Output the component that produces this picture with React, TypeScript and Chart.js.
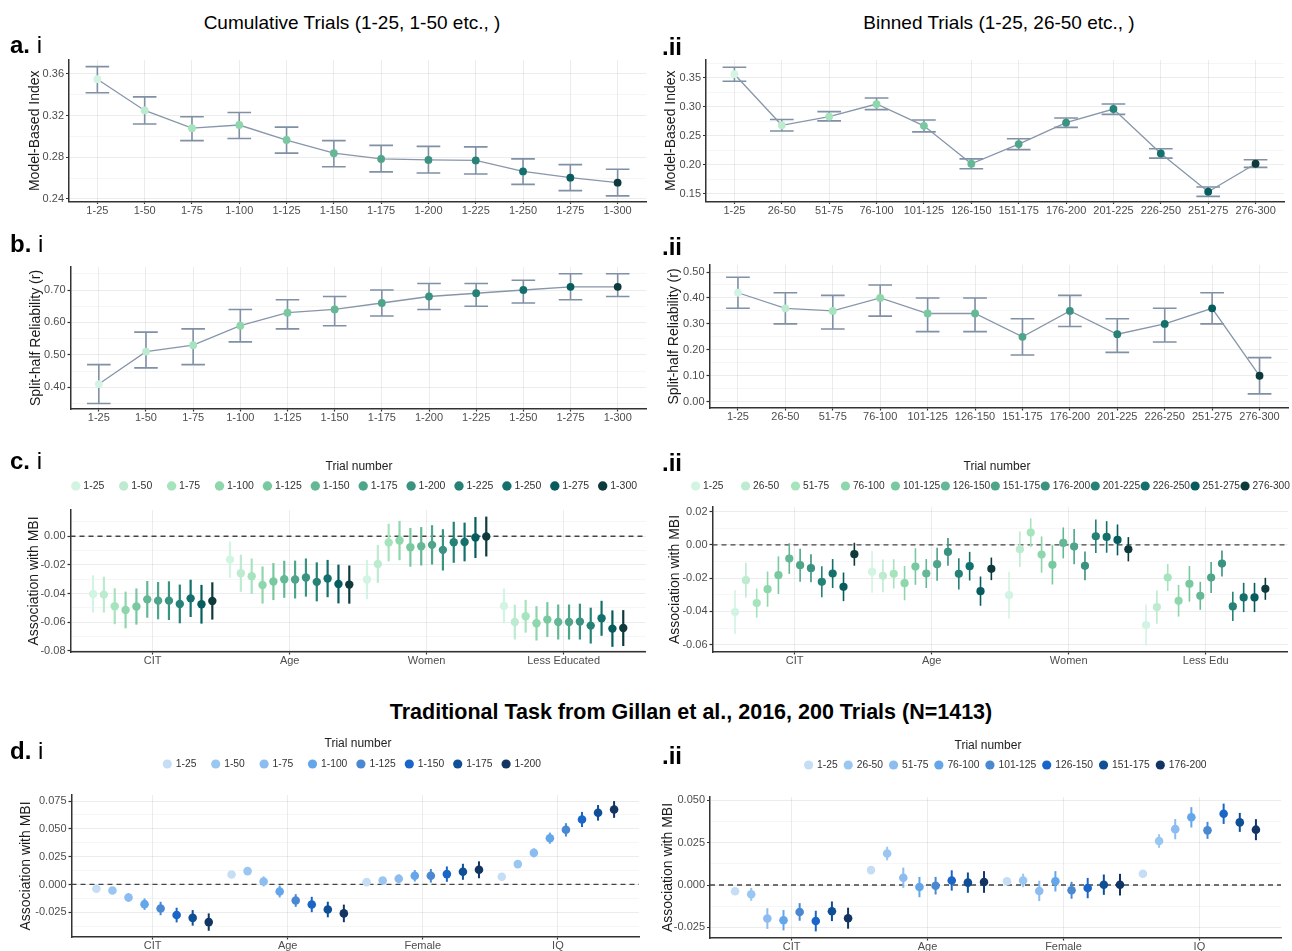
import React, { useEffect, useRef } from "react";
import { Chart, registerables } from "chart.js";

Chart.register(...registerables);

const FONT = '"Liberation Sans", Arial, Helvetica, sans-serif';
const TICK_COLOR = "#4d4d4d";
const TITLE_COLOR = "#1a1a1a";
const AXIS_COLOR = "#333333";
const GRID_MAJOR = "rgba(0,0,0,0.075)";
const GRID_MINOR = "rgba(0,0,0,0.035)";
const LINE_COLOR = "#8796aa";
const ERR_COLOR = "#8090a5";
const DODGE = 0.95;

// ---------- categories ----------
const cumulativeBins = ["1-25", "1-50", "1-75", "1-100", "1-125", "1-150", "1-175", "1-200", "1-225", "1-250", "1-275", "1-300"];
const binnedBins = ["1-25", "26-50", "51-75", "76-100", "101-125", "126-150", "151-175", "176-200", "201-225", "226-250", "251-275", "276-300"];
const gillanCumBins = ["1-25", "1-50", "1-75", "1-100", "1-125", "1-150", "1-175", "1-200"];
const gillanBinBins = ["1-25", "26-50", "51-75", "76-100", "101-125", "126-150", "151-175", "176-200"];
const groupsC1 = ["CIT", "Age", "Women", "Less Educated"];
const groupsC2 = ["CIT", "Age", "Women", "Less Edu"];
const groupsD = ["CIT", "Age", "Female", "IQ"];

const tealColors = ["#d2f4e2", "#bdebd0", "#a6e4be", "#8ed6ab", "#78c9a0", "#64b896", "#4ea58a", "#3a9280", "#268276", "#14706c", "#075c5e", "#0f3a3c"];
const blueColors = ["#c6ddf6", "#9ac6f2", "#8dbdf0", "#64a6ea", "#4a88d2", "#1a66c8", "#0f4f96", "#123563"];

// ---------- a.i  Model-based index, cumulative ----------
const a1Mean = [0.355, 0.325, 0.308, 0.311, 0.2966, 0.284, 0.2785, 0.2775, 0.277, 0.2665, 0.2605, 0.2557];
const a1Lo = [0.342, 0.312, 0.296, 0.298, 0.284, 0.271, 0.266, 0.265, 0.264, 0.254, 0.248, 0.243];
const a1Hi = [0.367, 0.338, 0.319, 0.323, 0.309, 0.296, 0.2915, 0.2905, 0.29, 0.2785, 0.273, 0.2685];
// ---------- a.ii Model-based index, binned ----------
const a2Mean = [0.356, 0.268, 0.283, 0.3046, 0.267, 0.2017, 0.2356, 0.2724, 0.296, 0.2195, 0.1535, 0.2017];
const a2Lo = [0.344, 0.258, 0.2755, 0.295, 0.2566, 0.193, 0.226, 0.2643, 0.2868, 0.2114, 0.1455, 0.1954];
const a2Hi = [0.368, 0.278, 0.2915, 0.315, 0.277, 0.21, 0.2448, 0.2804, 0.3046, 0.2275, 0.1615, 0.2086];
// ---------- b.i split-half reliability, cumulative ----------
const b1Mean = [0.41, 0.51, 0.53, 0.59, 0.63, 0.64, 0.66, 0.68, 0.69, 0.7, 0.71, 0.71];
const b1Lo = [0.35, 0.46, 0.47, 0.54, 0.58, 0.59, 0.62, 0.64, 0.65, 0.66, 0.67, 0.68];
const b1Hi = [0.47, 0.57, 0.58, 0.64, 0.67, 0.68, 0.7, 0.72, 0.72, 0.73, 0.75, 0.75];
// ---------- b.ii split-half reliability, binned ----------
const b2Mean = [0.42, 0.36, 0.35, 0.4, 0.34, 0.34, 0.25, 0.35, 0.26, 0.3, 0.36, 0.1];
const b2Lo = [0.36, 0.3, 0.28, 0.33, 0.27, 0.27, 0.18, 0.29, 0.19, 0.23, 0.3, 0.03];
const b2Hi = [0.48, 0.42, 0.41, 0.45, 0.4, 0.4, 0.32, 0.41, 0.32, 0.36, 0.42, 0.17];

// ---------- c.i association with MBI, cumulative (rows = groups, cols = bins) ----------
const c1Est = [
  [-0.0402, -0.0407, -0.0488, -0.0514, -0.049, -0.044, -0.0449, -0.0449, -0.0472, -0.0433, -0.0474, -0.0451],
  [-0.0163, -0.0258, -0.0279, -0.034, -0.0316, -0.03, -0.0302, -0.0288, -0.0318, -0.0295, -0.0333, -0.0337],
  [-0.0302, -0.0193, -0.0044, -0.003, -0.0077, -0.007, -0.006, -0.0095, -0.0042, -0.004, -0.0009, -0.0002],
  [-0.0486, -0.0598, -0.0558, -0.0607, -0.0581, -0.0598, -0.0598, -0.0595, -0.0623, -0.0572, -0.0644, -0.064],
];
const c1Err = [
  [0.013, 0.0125, 0.0125, 0.0128, 0.0126, 0.0128, 0.013, 0.0135, 0.0135, 0.013, 0.0135, 0.013],
  [0.0126, 0.0129, 0.0124, 0.0129, 0.0129, 0.0129, 0.0132, 0.0133, 0.0136, 0.013, 0.0135, 0.0133],
  [0.0137, 0.0132, 0.0131, 0.0137, 0.0135, 0.0134, 0.0137, 0.0144, 0.0143, 0.0135, 0.0143, 0.0139],
  [0.0121, 0.0122, 0.0114, 0.012, 0.0122, 0.0122, 0.0122, 0.0125, 0.0125, 0.0122, 0.0127, 0.0125],
];
// ---------- c.ii association with MBI, binned ----------
const c2Est = [
  [-0.0404, -0.0212, -0.035, -0.0266, -0.0182, -0.0082, -0.0122, -0.014, -0.0222, -0.0172, -0.0252, -0.0056],
  [-0.0162, -0.0186, -0.0174, -0.023, -0.013, -0.0172, -0.0116, -0.0042, -0.0174, -0.0128, -0.0278, -0.0144],
  [-0.0302, -0.0026, 0.0074, -0.0058, -0.012, 0.0012, -0.001, -0.0126, 0.0052, 0.0048, 0.003, -0.0026],
  [-0.0482, -0.0374, -0.0196, -0.0336, -0.0234, -0.0306, -0.0196, -0.0112, -0.037, -0.0316, -0.0316, -0.0264],
];
const c2Err = [
  [0.0132, 0.0104, 0.0088, 0.0106, 0.0113, 0.0092, 0.0099, 0.0084, 0.0093, 0.0087, 0.0086, 0.0069],
  [0.0125, 0.0099, 0.0088, 0.0103, 0.011, 0.0087, 0.0099, 0.0083, 0.0094, 0.0086, 0.0088, 0.0068],
  [0.0141, 0.0106, 0.0086, 0.0109, 0.0118, 0.0093, 0.0106, 0.0086, 0.0101, 0.0095, 0.0093, 0.0073],
  [0.0123, 0.01, 0.0081, 0.0095, 0.0107, 0.0084, 0.0093, 0.0078, 0.0088, 0.0088, 0.0088, 0.0066],
];
// ---------- d.i Gillan task, cumulative ----------
const d1Est = [
  [-0.0039, -0.0054, -0.0117, -0.0177, -0.0216, -0.0275, -0.03, -0.0338],
  [0.009, 0.012, 0.0027, -0.0063, -0.0144, -0.018, -0.0225, -0.026],
  [0.0021, 0.0036, 0.0051, 0.0078, 0.0078, 0.0093, 0.0114, 0.0132],
  [0.0069, 0.0183, 0.0284, 0.0416, 0.0491, 0.0584, 0.0644, 0.0674],
];
const d1Err = [
  [0.0018, 0.002, 0.004, 0.0052, 0.006, 0.0066, 0.007, 0.0078],
  [0.0018, 0.002, 0.0045, 0.0054, 0.0057, 0.0069, 0.007, 0.0079],
  [0.0015, 0.002, 0.004, 0.0052, 0.0061, 0.0069, 0.0072, 0.0076],
  [0.0018, 0.0022, 0.004, 0.005, 0.006, 0.0068, 0.007, 0.0075],
];
// ---------- d.ii Gillan task, binned ----------
const d2Est = [
  [-0.0037, -0.0055, -0.0198, -0.0208, -0.0159, -0.0213, -0.0155, -0.0196],
  [0.0088, 0.0186, 0.0043, -0.0012, -0.0004, 0.0027, 0.0014, 0.0018],
  [0.0022, 0.0027, -0.0035, 0.0022, -0.0031, -0.0018, 0.0002, 0.0002],
  [0.0067, 0.026, 0.033, 0.04, 0.0323, 0.0421, 0.037, 0.0327],
];
const d2Err = [
  [0.0015, 0.0038, 0.0061, 0.006, 0.0052, 0.0061, 0.0058, 0.0062],
  [0.0015, 0.004, 0.006, 0.006, 0.0052, 0.006, 0.006, 0.0064],
  [0.0015, 0.004, 0.006, 0.006, 0.005, 0.006, 0.006, 0.0064],
  [0.0015, 0.004, 0.006, 0.006, 0.005, 0.006, 0.0056, 0.0062],
];

// ---------- y tick labels ----------
const a1YTicks = [0.24, 0.28, 0.32, 0.36];
const a2YTicks = [0.15, 0.2, 0.25, 0.3, 0.35];
const b1YTicks = [0.4, 0.5, 0.6, 0.7];
const b2YTicks = [0.0, 0.1, 0.2, 0.3, 0.4, 0.5];
const c1YTicks = [-0.08, -0.06, -0.04, -0.02, 0.0];
const c2YTicks = [-0.06, -0.04, -0.02, 0.0, 0.02];
const d1YTicks = [-0.025, 0.0, 0.025, 0.05, 0.075];
const d2YTicks = [-0.025, 0.0, 0.025, 0.05];

// ---------- plugins ----------
const zeroLinePlugin = {
  id: "zeroLine",
  beforeDatasetsDraw(chart: any, _a: any, opts: any) {
    if (!opts || !opts.display) return;
    const { ctx, chartArea, scales } = chart;
    const y = scales.y.getPixelForValue(0);
    ctx.save();
    ctx.strokeStyle = "#444";
    ctx.lineWidth = 1.3;
    ctx.setLineDash([5, 4]);
    ctx.beginPath();
    ctx.moveTo(chartArea.left, y);
    ctx.lineTo(chartArea.right, y);
    ctx.stroke();
    ctx.restore();
  },
};

const errorBarPlugin = {
  id: "errorBars",
  beforeDatasetsDraw(chart: any) {
    const { ctx, scales } = chart;
    const xs = scales.x, ys = scales.y;
    ctx.save();
    ctx.lineCap = "butt";
    chart.data.datasets.forEach((ds: any) => {
      if (!ds.errLo) return;
      ds.data.forEach((pt: any, i: number) => {
        const px = xs.getPixelForValue(pt.x);
        const yLo = ys.getPixelForValue(ds.errLo[i]);
        const yHi = ys.getPixelForValue(ds.errHi[i]);
        ctx.strokeStyle = Array.isArray(ds.errColor) ? ds.errColor[i] : ds.errColor;
        ctx.lineWidth = ds.errWidth;
        ctx.beginPath();
        ctx.moveTo(px, yLo);
        ctx.lineTo(px, yHi);
        if (ds.capHalf) {
          const c = Math.abs(xs.getPixelForValue(pt.x + ds.capHalf) - px);
          ctx.moveTo(px - c, yLo);
          ctx.lineTo(px + c, yLo);
          ctx.moveTo(px - c, yHi);
          ctx.lineTo(px + c, yHi);
        }
        ctx.stroke();
      });
    });
    ctx.restore();
  },
};

const trialLegendPlugin = {
  id: "trialLegend",
  afterDraw(chart: any, _a: any, o: any) {
    if (!o || !o.display) return;
    const ctx = chart.ctx;
    ctx.save();
    ctx.textBaseline = "middle";
    ctx.textAlign = "center";
    ctx.fillStyle = "#222";
    ctx.font = `${o.titleSize}px ${FONT}`;
    ctx.fillText(o.title, o.titleX, o.titleY);
    ctx.textAlign = "left";
    ctx.font = `${o.fontSize}px ${FONT}`;
    let cx = o.startX;
    chart.data.datasets.forEach((ds: any) => {
      ctx.fillStyle = ds.backgroundColor;
      ctx.beginPath();
      ctx.arc(cx, o.rowY, o.radius, 0, Math.PI * 2);
      ctx.fill();
      ctx.fillStyle = "#333";
      ctx.fillText(ds.label, cx + o.textGap, o.rowY + 0.5);
      const tw = ctx.measureText(ds.label).width;
      cx = o.slot ? cx + o.slot : cx + o.textGap + tw + o.gapAfter;
    });
    ctx.restore();
  },
};

// ---------- helpers ----------
function allYTicks(s: any) {
  const majors = s.yTicks;
  const half = (majors[1] - majors[0]) / 2;
  const out: number[] = [];
  for (let k = Math.ceil(s.yMin / half - 1e-9); k <= Math.floor(s.yMax / half + 1e-9); k++) {
    out.push(Number((k * half).toFixed(6)));
  }
  return out;
}
function majorOf(s: any, v: number) {
  return s.yTicks.find((m: number) => Math.abs(m - v) < 1e-7);
}

function baseOptions(s: any, xLabels: string[], legend: any, zero: boolean) {
  const yVals = allYTicks(s);
  return {
    responsive: false,
    animation: false,
    devicePixelRatio: 1,
    events: [],
    layout: { padding: { left: 0, top: s.t - s.y, right: s.x + s.w - s.r, bottom: 0 } },
    plugins: {
      legend: { display: false },
      tooltip: { enabled: false },
      zeroLine: { display: zero },
      trialLegend: legend ? { display: true, ...legend } : { display: false },
    },
    scales: {
      x: {
        type: "linear",
        min: s.xMin,
        max: s.xMax,
        afterBuildTicks: (sc: any) => {
          sc.ticks = xLabels.map((_: string, i: number) => ({ value: i }));
        },
        ticks: {
          autoSkip: false,
          maxRotation: 0,
          minRotation: 0,
          padding: 0,
          color: TICK_COLOR,
          font: { family: FONT, size: 11 },
          callback: (v: number) => xLabels[Math.round(v)] ?? "",
        },
        grid: { color: GRID_MAJOR, lineWidth: 1, drawTicks: true, tickLength: 2.5, tickColor: AXIS_COLOR, tickWidth: 1.2 },
        border: { color: AXIS_COLOR, width: 1.5 },
        afterFit: (sc: any) => {
          sc.height = s.y + s.h - s.b;
          sc.paddingLeft = 0; sc.paddingRight = 0; sc.paddingTop = 0; sc.paddingBottom = 0;
        },
      },
      y: {
        type: "linear",
        position: "left",
        min: s.yMin,
        max: s.yMax,
        afterBuildTicks: (sc: any) => {
          sc.ticks = yVals.map((v) => ({ value: v }));
        },
        ticks: {
          autoSkip: false,
          padding: 2,
          color: TICK_COLOR,
          font: { family: FONT, size: 11 },
          callback: (v: number) => {
            const m = majorOf(s, v);
            return m === undefined ? "" : m.toFixed(s.dec);
          },
        },
        grid: {
          lineWidth: 1,
          drawTicks: true,
          tickLength: 3,
          tickWidth: 1.2,
          color: (c: any) => (c.tick && majorOf(s, c.tick.value) !== undefined ? GRID_MAJOR : GRID_MINOR),
          tickColor: (c: any) => (c.tick && majorOf(s, c.tick.value) !== undefined ? AXIS_COLOR : "rgba(0,0,0,0)"),
        },
        border: { color: AXIS_COLOR, width: 1.5 },
        title: {
          display: true,
          text: s.yTitle,
          color: TITLE_COLOR,
          font: { family: FONT, size: 14 },
          padding: { top: s.yTitleX - s.x - 8.4, bottom: 0 },
        },
        afterFit: (sc: any) => {
          sc.width = s.l - s.x;
          sc.paddingLeft = 0; sc.paddingRight = 0; sc.paddingTop = 0; sc.paddingBottom = 0;
        },
      },
    },
  };
}

function seriesConfig(s: any, cats: string[], mean: number[], lo: number[], hi: number[]) {
  return {
    type: "line",
    data: {
      datasets: [
        {
          label: s.yTitle,
          data: cats.map((_c, i) => ({ x: i, y: mean[i] })),
          borderColor: LINE_COLOR,
          borderWidth: 1.3,
          tension: 0,
          pointRadius: 3.9,
          pointBorderWidth: 0,
          pointBackgroundColor: tealColors,
          errLo: lo,
          errHi: hi,
          errColor: ERR_COLOR,
          errWidth: 1.6,
          capHalf: 0.25,
        },
      ],
    },
    options: baseOptions(s, cats, null, false),
    plugins: [zeroLinePlugin, errorBarPlugin, trialLegendPlugin],
  };
}

function dodgeConfig(s: any, groups: string[], bins: string[], colors: string[], est: number[][], err: number[][], style: any, legend: any) {
  const n = bins.length;
  const step = DODGE / n;
  const datasets = bins.map((bin, j) => ({
    label: bin,
    backgroundColor: colors[j],
    borderColor: colors[j],
    pointRadius: style.r,
    pointBorderWidth: 0,
    data: groups.map((_g, gi) => ({ x: gi + (j - (n - 1) / 2) * step, y: est[gi][j] })),
    errLo: groups.map((_g, gi) => est[gi][j] - err[gi][j]),
    errHi: groups.map((_g, gi) => est[gi][j] + err[gi][j]),
    errColor: colors[j],
    errWidth: style.ew,
  }));
  const lg = {
    title: "Trial number",
    titleSize: 12,
    fontSize: legend.fontSize,
    titleX: legend.titleX - s.x,
    titleY: legend.titleY - s.y,
    rowY: legend.rowY - s.y,
    startX: legend.startX - s.x,
    slot: legend.slot || 0,
    gapAfter: legend.gapAfter || 0,
    textGap: legend.textGap,
    radius: legend.radius,
  };
  return {
    type: "scatter",
    data: { datasets },
    options: baseOptions(s, groups, lg, true),
    plugins: [zeroLinePlugin, errorBarPlugin, trialLegendPlugin],
  };
}

// ---------- panel geometry (page coordinates) ----------
const specA1 = { x: 0, y: 55, w: 650, h: 170, l: 69, t: 60, r: 647, b: 201.5, xMin: -0.6, xMax: 11.6, yMin: 0.2376, yMax: 0.3734, yTicks: a1YTicks, dec: 2, yTitle: "Model-Based Index", yTitleX: 35 };
const specA2 = { x: 650, y: 55, w: 642, h: 170, l: 706, t: 60, r: 1284, b: 201.5, xMin: -0.6, xMax: 11.6, yMin: 0.1366, yMax: 0.3805, yTicks: a2YTicks, dec: 2, yTitle: "Model-Based Index", yTitleX: 671 };
const specB1 = { x: 0, y: 258, w: 650, h: 172, l: 70.5, t: 267, r: 647, b: 409, xMin: -0.6, xMax: 11.6, yMin: 0.333, yMax: 0.771, yTicks: b1YTicks, dec: 2, yTitle: "Split-half Reliability (r)", yTitleX: 36 };
const specB2 = { x: 650, y: 258, w: 642, h: 172, l: 709.5, t: 265, r: 1288, b: 408, xMin: -0.6, xMax: 11.6, yMin: -0.0243, yMax: 0.527, yTicks: b2YTicks, dec: 2, yTitle: "Split-half Reliability (r)", yTitleX: 674 };
const specC1 = { x: 0, y: 455, w: 650, h: 215, l: 70.5, t: 510, r: 646, b: 652, xMin: -0.6, xMax: 3.6, yMin: -0.0807, yMax: 0.0183, yTicks: c1YTicks, dec: 2, yTitle: "Association with MBI", yTitleX: 34 };
const specC2 = { x: 650, y: 455, w: 642, h: 215, l: 712.5, t: 507, r: 1288, b: 652, xMin: -0.6, xMax: 3.6, yMin: -0.0644, yMax: 0.0228, yTicks: c2YTicks, dec: 2, yTitle: "Association with MBI", yTitleX: 675 };
const specD1 = { x: 0, y: 730, w: 650, h: 221, l: 71.5, t: 795, r: 639, b: 937, xMin: -0.6, xMax: 3.6, yMin: -0.0472, yMax: 0.0804, yTicks: d1YTicks, dec: 3, yTitle: "Association with MBI", yTitleX: 26 };
const specD2 = { x: 650, y: 730, w: 642, h: 221, l: 710, t: 797, r: 1281, b: 938, xMin: -0.6, xMax: 3.6, yMin: -0.0313, yMax: 0.052, yTicks: d2YTicks, dec: 3, yTitle: "Association with MBI", yTitleX: 668 };

const SPECS = [specA1, specA2, specB1, specB2, specC1, specC2, specD1, specD2];

function buildConfigs(): any[] {
  return [
    seriesConfig(specA1, cumulativeBins, a1Mean, a1Lo, a1Hi),
    seriesConfig(specA2, binnedBins, a2Mean, a2Lo, a2Hi),
    seriesConfig(specB1, cumulativeBins, b1Mean, b1Lo, b1Hi),
    seriesConfig(specB2, binnedBins, b2Mean, b2Lo, b2Hi),
    dodgeConfig(specC1, groupsC1, cumulativeBins, tealColors, c1Est, c1Err, { r: 4.2, ew: 2.2 },
      { fontSize: 10.5, titleX: 359, titleY: 467, rowY: 486, startX: 75.8, slot: 47.9, textGap: 7.5, radius: 4.7 }),
    dodgeConfig(specC2, groupsC2, binnedBins, tealColors, c2Est, c2Err, { r: 4.1, ew: 1.6 },
      { fontSize: 10.2, titleX: 997, titleY: 467, rowY: 486, startX: 695.6, slot: 49.95, textGap: 7.5, radius: 4.6 }),
    dodgeConfig(specD1, groupsD, gillanCumBins, blueColors, d1Est, d1Err, { r: 4.3, ew: 2.0 },
      { fontSize: 10.3, titleX: 358, titleY: 744, rowY: 764, startX: 167.3, slot: 48.4, textGap: 8.5, radius: 4.6 }),
    dodgeConfig(specD2, groupsD, gillanBinBins, blueColors, d2Est, d2Err, { r: 4.3, ew: 2.0 },
      { fontSize: 10.3, titleX: 988, titleY: 746, rowY: 765, startX: 808.6, gapAfter: 10.5, textGap: 8.5, radius: 4.6 }),
  ];
}

function Txt(props: { x: number; y: number; size: number; bold?: boolean; center?: boolean; children: any }) {
  const { x, y, size, bold, center, children } = props;
  return (
    <div
      style={{
        position: "absolute",
        left: x,
        top: y,
        transform: `translate(${center ? "-50%" : "0"}, -50%)`,
        fontSize: size,
        fontWeight: bold ? 700 : 400,
        lineHeight: 1,
        whiteSpace: "nowrap",
        color: "#000",
        fontFamily: FONT,
      }}
    >
      {children}
    </div>
  );
}

function PanelLabel(props: { x: number; y: number; letter?: string; roman: string }) {
  return (
    <Txt x={props.x} y={props.y} size={24}>
      {props.letter ? (
        <>
          <b>{props.letter}</b> {props.roman}
        </>
      ) : (
        <b>{props.roman}</b>
      )}
    </Txt>
  );
}

export default function App() {
  const refs = useRef<(HTMLCanvasElement | null)[]>([]);
  useEffect(() => {
    const cfgs = buildConfigs();
    const charts = cfgs.map((cfg, i) => new Chart(refs.current[i] as HTMLCanvasElement, cfg));
    return () => charts.forEach((c) => c.destroy());
  }, []);
  return (
    <div style={{ position: "absolute", left: 0, top: 0, width: 1292, height: 951, background: "#fff", overflow: "hidden", fontFamily: FONT }}>
      {SPECS.map((s, i) => (
        <canvas
          key={i}
          ref={(el) => {
            refs.current[i] = el;
          }}
          width={s.w}
          height={s.h}
          style={{ position: "absolute", left: s.x, top: s.y, width: s.w, height: s.h, display: "block" }}
        />
      ))}
      <Txt x={352} y={22} size={19} center>Cumulative Trials (1-25, 1-50 etc., )</Txt>
      <Txt x={999} y={22} size={19} center>Binned Trials (1-25, 26-50 etc., )</Txt>
      <Txt x={691} y={713} size={21.5} bold center>Traditional Task from Gillan et al., 2016, 200 Trials (N=1413)</Txt>
      <PanelLabel x={10} y={45} letter="a." roman="i" />
      <PanelLabel x={662} y={47} roman=".ii" />
      <PanelLabel x={10} y={244} letter="b." roman="i" />
      <PanelLabel x={662} y={247} roman=".ii" />
      <PanelLabel x={10} y={461} letter="c." roman="i" />
      <PanelLabel x={662} y={463} roman=".ii" />
      <PanelLabel x={10} y={751} letter="d." roman="i" />
      <PanelLabel x={662} y={756} roman=".ii" />
    </div>
  );
}
